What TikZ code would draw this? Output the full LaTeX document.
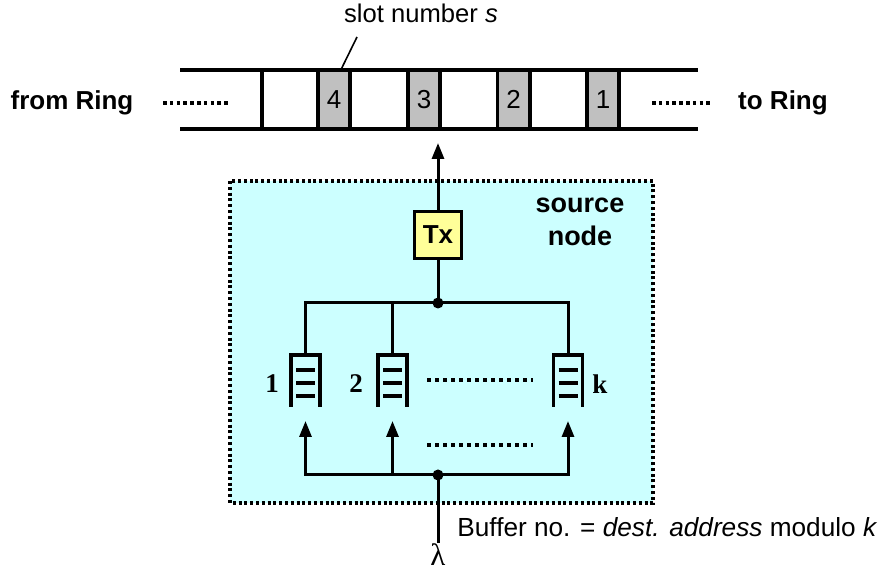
\documentclass[tikz,border=0pt]{standalone}
\usepackage{fontspec}
\setmainfont{Liberation Sans}
\newfontfamily\serifbold{Liberation Serif}
\usetikzlibrary{arrows.meta,calc}
\definecolor{slotgray}{RGB}{192,192,192}
\definecolor{srccyan}{RGB}{204,255,255}
\definecolor{txyellow}{RGB}{255,255,153}
\tikzset{
  thickline/.style={line width=1.5pt},
  ringline/.style={line width=1.6pt},
  dotleader/.style={line width=2pt, dash pattern=on 1.8pt off 1.6pt},
  bufdots/.style={line width=1.6pt, dash pattern=on 2pt off 2pt},
  slotbox/.style={draw, ringline, fill=slotgray, minimum width=16pt, minimum height=29.5pt, inner sep=0pt, font=\fontsize{13}{15}\selectfont},
  txbox/.style={draw, thickline, fill=txyellow, minimum size=23.5pt, inner sep=0pt, font=\bfseries\fontsize{13}{15}\selectfont},
  upar/.style={thickline, -{Triangle[length=8pt,width=6pt]}},
  jdot/.style={circle, fill=black, inner sep=0pt, minimum size=5.5pt},
  buflabel/.style={font=\serifbold\bfseries\fontsize{13.5}{15}\selectfont},
  pics/buffer/.style={code={
    \draw[line width=1.7pt] (-14.5,26) -- (-14.5,-26) -- (14.5,-26) -- (14.5,26);
    \draw[line width=1.7pt] (-9.5,-11) -- (9.5,-11) (-9.5,2) -- (9.5,2) (-9.5,15) -- (9.5,15);
  }}
}
\begin{document}
\begin{tikzpicture}[x=0.5pt,y=-0.5pt]
\useasboundingbox (0,0) rectangle (885,572);

% source node area
\draw[fill=srccyan, line width=1.6pt, dash pattern=on 1.5pt off 1.4pt] (230,181) rectangle (653,503);

% ring
\draw[ringline] (180,70) -- (698,70);
\draw[ringline] (180,129) -- (698,129);
\foreach \x in {262,408,440,530,619}{
  \draw[ringline] (\x,70) -- (\x,129);
}
\node[slotbox] (s4) at (334,99.5) {4};
\node[slotbox] (s3) at (424,99.5) {3};
\node[slotbox] (s2) at (513.5,99.5) {2};
\node[slotbox] (s1) at (603,99.5) {1};

\draw[dotleader] (163,103) -- (228,103);
\draw[dotleader] (652,103) -- (712,103);
\node[font=\bfseries\fontsize{13}{15}\selectfont] (from) at (72,103) {from Ring};
\node[font=\bfseries\fontsize{13}{15}\selectfont] (to) at (783,103) {to Ring};

% slot number label
\node[font=\fontsize{12.8}{15}\selectfont] (slotlbl) at (421,13) {slot number \textit{s}};
\coordinate (leadtop) at (357,37);
\draw[line width=0.8pt] ($(s4.north east)+(-10,0)$) -- (leadtop);

% Tx and arrow to ring
\node[txbox] (tx) at (438,235) {Tx};
\coordinate (ringin) at (438,143);
\draw[upar] (tx.north) -- (ringin);

\node[font=\bfseries\fontsize{13.5}{15}\selectfont, align=center, inner sep=0pt] (src) at (580,222) {source\\[1.5pt]node};

% buffers
\coordinate (b1) at (305.5,381);
\coordinate (b2) at (392.5,381);
\coordinate (bk) at (568,381);
\pic at (b1) {buffer};
\pic at (b2) {buffer};
\pic at (bk) {buffer};
\node[buflabel] (l1) at (272,384) {1};
\node[buflabel] (l2) at (356,384) {2};
\node[buflabel] (lk) at (600,384) {k};
\draw[bufdots] (427,380) -- (533,380);
\draw[bufdots] (427,445) -- (533,445);

% top collector
\node[jdot] (jtop) at (438,303) {};
\draw[thickline] (tx.south) -- (jtop.center);
\draw[thickline] ($(b1)+(0,-26)$) |- (jtop.center) -| ($(bk)+(0,-26)$);
\draw[thickline] ($(b2)+(0,-26)$) -- ($(b2)+(0,-78)$);

% bottom distributor
\node[jdot] (jbot) at (438,475) {};
\coordinate (lamtop) at (438,543);
\draw[thickline] (lamtop) -- (jbot.center);
\draw[upar] (jbot.center) -| ($(b1)+(0,40)$);
\draw[upar] ($(b2)+(0,94)$) -- ($(b2)+(0,40)$);
\draw[upar] (jbot.center) -| ($(bk)+(0,40)$);

\node[font=\serifbold\fontsize{15.5}{17}\selectfont, inner sep=0pt, anchor=base] (lam) at (438,566) {λ};
\node[anchor=west, font=\fontsize{13.1}{15}\selectfont, inner sep=0pt] (rule) at (457,527) {Buffer no. = \textit{dest. address} modulo \textit{k}};
\end{tikzpicture}
\end{document}
